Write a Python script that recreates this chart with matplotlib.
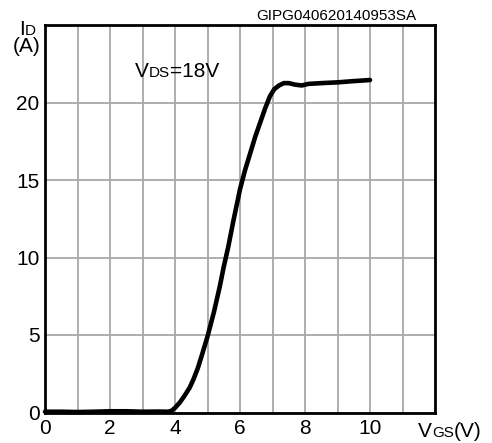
import matplotlib.pyplot as plt

plt.rcParams['font.family'] = ['Liberation Sans', 'DejaVu Sans']

# transfer characteristic
vgs = [0, 0.5, 1, 1.5, 2, 2.5, 3, 3.5, 3.8, 3.9, 4.0, 4.15, 4.3, 4.45, 4.57, 4.7,
       4.82, 5.0, 5.2, 5.38, 5.5, 5.64, 5.79, 6.0, 6.15, 6.31, 6.47, 6.62, 6.77,
       6.92, 7.05, 7.2, 7.35, 7.5, 7.7, 7.9, 8.1, 8.5, 9.0, 9.5, 10.0]
id_a = [0.05, 0.05, 0.03, 0.05, 0.08, 0.08, 0.05, 0.06, 0.05, 0.12, 0.3, 0.65,
        1.1, 1.6, 2.15, 2.85, 3.65, 4.9, 6.5, 8.15, 9.4, 10.7, 12.3, 14.4, 15.6,
        16.7, 17.8, 18.7, 19.6, 20.4, 20.85, 21.1, 21.25, 21.25, 21.15, 21.1,
        21.2, 21.25, 21.3, 21.38, 21.45]

xticks = [0, 2, 4, 6, 8, 10]
yticks = [0, 5, 10, 15, 20]

W, H = 492, 443
fig = plt.figure(figsize=(W / 100, H / 100), dpi=100)
ax = fig.add_axes([45 / W, 1 - 412.5 / H, 390 / W, 387.5 / H])

ax.plot(vgs, id_a, color='black', lw=3.3, solid_capstyle='round',
        solid_joinstyle='round', clip_on=False, zorder=3)

ax.set_xlim(0, 12)
ax.set_ylim(0, 25)
ax.set_xticks(range(0, 13))
ax.set_xticklabels([str(t) if t in xticks else '' for t in range(0, 13)], fontsize=15)
ax.set_yticks(range(0, 26, 5))
ax.set_yticklabels([str(t) if t in yticks else '' for t in range(0, 26, 5)], fontsize=15)
ax.tick_params(length=0, pad=4)
ax.tick_params(axis='x', pad=5)
ax.grid(True, color='#a8a8a8', lw=1.3)
for s in ax.spines.values():
    s.set_linewidth(2)

renderer = fig.canvas.get_renderer()


def label(x, y, parts):
    # parts: (text, size) pieces placed left to right on one baseline, in pixels
    for txt, size in parts:
        t = fig.text(x / W, 1 - y / H, txt, fontsize=size, va='baseline', ha='left')
        x += t.get_window_extent(renderer).width


label(135, 77, [('V', 15), ('DS', 11), ('=18V', 15)])
label(19, 35, [('I', 15), ('D', 11)])
label(13, 52.5, [('(A)', 15)])
label(418, 437, [('V', 15), ('GS', 11), ('(V)', 15)])
fig.text(336 / W, 1 - 20 / H, 'GIPG040620140953SA', fontsize=11, va='baseline', ha='center')

fig.savefig('out.png', dpi=100)
